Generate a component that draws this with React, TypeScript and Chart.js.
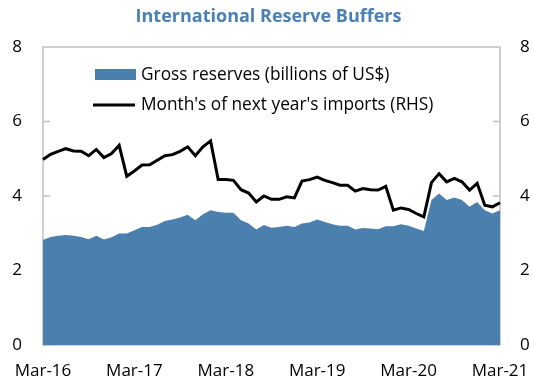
import React, { useEffect, useRef } from "react";
import { Chart, registerables } from "chart.js";

Chart.register(...registerables);

const monthNames = ["Jan", "Feb", "Mar", "Apr", "May", "Jun", "Jul", "Aug", "Sep", "Oct", "Nov", "Dec"];
// Monthly categories Mar-16 .. Mar-21
const categories: string[] = [];
for (let i = 0; i <= 60; i++) {
  const m = (2 + i) % 12;
  const y = 16 + Math.floor((2 + i) / 12);
  categories.push(`${monthNames[m]}-${y}`);
}

const grossReserves = [
  2.82, 2.9, 2.93, 2.95, 2.93, 2.9, 2.84, 2.93, 2.83, 2.89,
  2.99, 2.99, 3.08, 3.17, 3.17, 3.23, 3.33, 3.37, 3.42, 3.5,
  3.35, 3.51, 3.62, 3.57, 3.55, 3.55, 3.35, 3.26, 3.1, 3.22,
  3.15, 3.17, 3.2, 3.17, 3.26, 3.29, 3.37, 3.3, 3.24, 3.2,
  3.2, 3.1, 3.14, 3.13, 3.11, 3.19, 3.19, 3.24, 3.2, 3.13,
  3.06, 3.89, 4.07, 3.89, 3.96, 3.89, 3.71, 3.84, 3.62, 3.53,
  3.62,
];

const monthsOfImports = [
  4.98, 5.12, 5.2, 5.27, 5.21, 5.2, 5.08, 5.25, 5.03, 5.14,
  5.36, 4.53, 4.67, 4.83, 4.84, 4.96, 5.08, 5.11, 5.2, 5.32,
  5.08, 5.32, 5.48, 4.44, 4.44, 4.42, 4.17, 4.08, 3.84, 4.0,
  3.91, 3.91, 3.98, 3.95, 4.4, 4.44, 4.51, 4.42, 4.36, 4.29,
  4.29, 4.13, 4.2, 4.17, 4.16, 4.26, 3.62, 3.68, 3.64, 3.53,
  3.44, 4.36, 4.6, 4.38, 4.47, 4.38, 4.16, 4.34, 3.75, 3.71,
  3.82,
];

const yTicks = [0, 2, 4, 6, 8];

const titleText = "International Reserve Buffers";
const legendLabels = ["Gross reserves (billions of US$)", "Month's of next year's imports (RHS)"];

const BLUE = "#4a7fae";
const TITLE_BLUE = "#4a80b4";
const FONT = "'Open Sans', sans-serif";

const decor = {
  id: "decor",
  beforeDatasetsDraw(chart: any) {
    const { ctx, chartArea } = chart;
    const { left, right, top, bottom } = chartArea;
    ctx.save();
    ctx.strokeStyle = "#c0c0c0";
    ctx.lineWidth = 1.5;
    ctx.strokeRect(left, top, right - left, bottom - top);
    const ys = chart.scales.y;
    yTicks.forEach((v) => {
      if (v === 0 || v === 8) return;
      const py = ys.getPixelForValue(v);
      ctx.beginPath();
      ctx.moveTo(left, py);
      ctx.lineTo(left + 7, py);
      ctx.moveTo(right - 7, py);
      ctx.lineTo(right, py);
      ctx.stroke();
    });
    ctx.restore();
  },
  afterDraw(chart: any) {
    const { ctx, chartArea, width } = chart;
    const { left, top } = chartArea;
    ctx.save();
    // title
    ctx.fillStyle = TITLE_BLUE;
    ctx.font = `bold 18px ${FONT}`;
    ctx.textAlign = "center";
    ctx.textBaseline = "middle";
    ctx.fillText(titleText, width / 2 + 2, 17);
    // legend
    ctx.fillStyle = BLUE;
    ctx.fillRect(left + 52, top + 22, 41, 11);
    ctx.strokeStyle = "#000";
    ctx.lineWidth = 3;
    ctx.beginPath();
    ctx.moveTo(left + 50, top + 58);
    ctx.lineTo(left + 92, top + 58);
    ctx.stroke();
    ctx.fillStyle = "#000";
    ctx.font = `17.3px ${FONT}`;
    ctx.textAlign = "left";
    ctx.textBaseline = "middle";
    ctx.fillText(legendLabels[0], left + 98, top + 28);
    ctx.fillText(legendLabels[1], left + 98, top + 58);
    ctx.restore();
  },
};

export default function App() {
  const ref = useRef<HTMLCanvasElement>(null);
  useEffect(() => {
    if (!ref.current) return;
    const tickFont = { family: FONT, size: 17 };
    const chart = new Chart(ref.current, {
      type: "line",
      data: {
        labels: categories,
        datasets: [
          {
            label: legendLabels[1],
            data: monthsOfImports,
            borderColor: "#000",
            borderWidth: 3,
            pointRadius: 0,
            fill: false,
            tension: 0,
            yAxisID: "y1",
            order: 0,
          },
          {
            label: legendLabels[0],
            data: grossReserves,
            borderColor: "rgba(0,0,0,0)",
            borderWidth: 0,
            backgroundColor: BLUE,
            pointRadius: 0,
            fill: "origin",
            tension: 0,
            yAxisID: "y",
            order: 1,
          },
        ],
      },
      options: {
        responsive: false,
        animation: false,
        layout: { padding: { top: 47, left: 0, right: 0, bottom: 0 } },
        plugins: { legend: { display: false }, title: { display: false }, tooltip: { enabled: false } },
        scales: {
          x: {
            grid: { display: false, drawTicks: false },
            border: { display: false },
            ticks: {
              autoSkip: false,
              maxRotation: 0,
              padding: 16,
              color: "#000",
              font: tickFont,
              callback: (_v: any, i: number) => (i % 12 === 0 ? categories[i] : ""),
            },
            afterFit: (s: any) => {
              s.height = 36;
              s.paddingLeft = 0;
              s.paddingRight = 0;
            },
          },
          y: {
            position: "left",
            min: 0,
            max: 8,
            grid: { display: false, drawTicks: false },
            border: { display: false },
            ticks: { stepSize: 2, padding: 21, color: "#000", font: tickFont },
            afterFit: (s: any) => {
              s.width = 43;
            },
          },
          y1: {
            position: "right",
            min: 0,
            max: 8,
            grid: { display: false, drawTicks: false },
            border: { display: false },
            ticks: { stepSize: 2, padding: 20, color: "#000", font: tickFont },
            afterFit: (s: any) => {
              s.width = 33;
            },
          },
        },
      },
      plugins: [decor],
    });
    return () => chart.destroy();
  }, []);
  return (
    <div style={{ position: "absolute", left: 0, top: 0, width: 533, height: 381, background: "#fff" }}>
      <canvas ref={ref} width={533} height={381} style={{ display: "block" }} />
    </div>
  );
}
